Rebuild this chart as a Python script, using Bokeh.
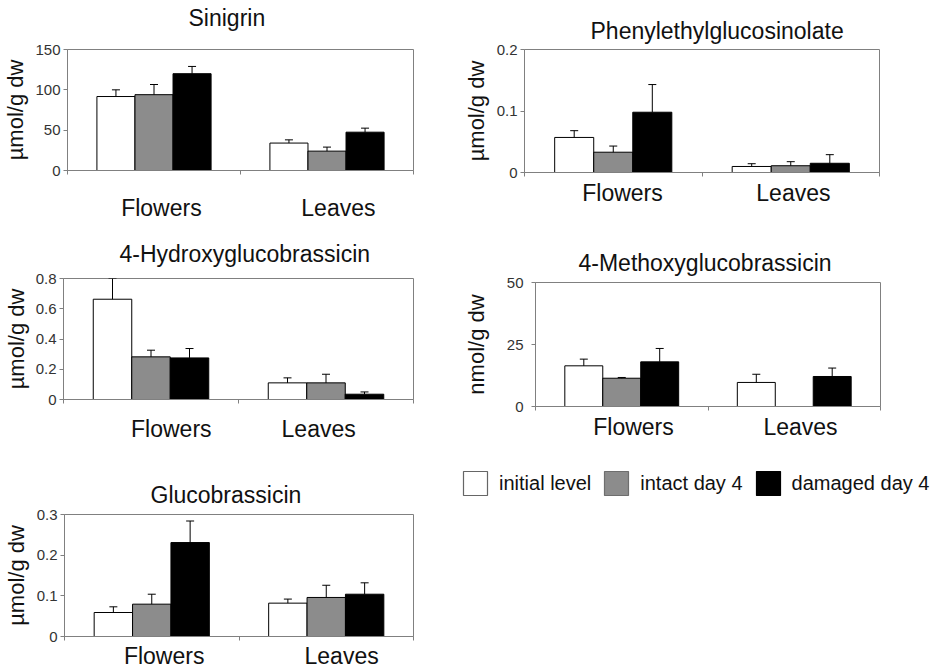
from bokeh.plotting import figure
from bokeh.models import (Range1d, FixedTicker, NumeralTickFormatter, ColumnDataSource,
                          Whisker, TeeHead, Legend, LegendItem, Title)
from bokeh.layouts import row, column
from bokeh.embed import file_html
from bokeh.resources import INLINE

FONT = "Liberation Sans"
NAN = float("nan")

# ---------------- data ----------------
categories = ["Flowers", "Leaves"]
series_names = ["initial level", "intact day 4", "damaged day 4"]
series_colors = ["#ffffff", "#8c8c8c", "#000000"]

sinigrin_initial = [91.7, 34.0]
sinigrin_intact = [94.0, 24.0]
sinigrin_damaged = [120.0, 47.5]
sinigrin_initial_err = [8.3, 4.0]
sinigrin_intact_err = [12.6, 5.0]
sinigrin_damaged_err = [9.0, 5.0]

phenyl_initial = [0.057, 0.0098]
phenyl_intact = [0.033, 0.011]
phenyl_damaged = [0.098, 0.015]
phenyl_initial_err = [0.011, 0.0045]
phenyl_intact_err = [0.010, 0.0066]
phenyl_damaged_err = [0.045, 0.014]

hydroxy_initial = [0.663, 0.110]
hydroxy_intact = [0.282, 0.110]
hydroxy_damaged = [0.275, 0.035]
hydroxy_initial_err = [0.137, 0.033]
hydroxy_intact_err = [0.044, 0.057]
hydroxy_damaged_err = [0.062, 0.015]

methoxy_initial = [16.4, 9.7]
methoxy_intact = [11.4, NAN]
methoxy_damaged = [18.0, 12.1]
methoxy_initial_err = [2.7, 3.3]
methoxy_intact_err = [0.3, NAN]
methoxy_damaged_err = [5.4, 3.4]

gluco_initial = [0.059, 0.082]
gluco_intact = [0.0795, 0.096]
gluco_damaged = [0.231, 0.104]
gluco_initial_err = [0.014, 0.010]
gluco_intact_err = [0.0245, 0.030]
gluco_damaged_err = [0.053, 0.028]

sinigrin_ticks = [0, 50, 100, 150]
phenyl_ticks = [0, 0.1, 0.2]
hydroxy_ticks = [0, 0.2, 0.4, 0.6, 0.8]
methoxy_ticks = [0, 25, 50]
gluco_ticks = [0, 0.1, 0.2, 0.3]

BAR_W = 0.22
GRAY = "#808080"


def make_panel(title, ylabel, means, errs, yticks, width, height, borders,
               title_offset, title_standoff, title_gap,
               xlab_standoff, ylab_standoff, ytick_standoff, shifts):
    left, right, top, bottom = borders
    p = figure(width=width, height=height, toolbar_location=None, output_backend="svg",
               x_range=Range1d(0, 2), y_range=Range1d(0, yticks[-1]),
               min_border_left=left, min_border_right=right,
               min_border_top=top, min_border_bottom=bottom, title=None)
    t = Title(text=title, text_font=FONT, text_font_size="23px", text_font_style="normal",
              text_color="#111111", align="left", offset=title_offset,
              standoff=title_standoff)
    if title_gap:
        # invisible spacer between frame and title
        p.add_layout(Title(text=" ", text_font_size="1px", standoff=title_gap), "above")
        p.add_layout(t, "above")
    else:
        p.title = t
    p.outline_line_color = GRAY
    p.xgrid.visible = False
    p.ygrid.visible = False
    p.background_fill_color = "white"
    p.border_fill_color = "white"

    for k in range(3):
        xs = [i + 0.5 + (k - 1) * BAR_W for i in range(len(categories))]
        tops = means[k]
        uppers = [m + e for m, e in zip(means[k], errs[k])]
        src = ColumnDataSource(dict(x=xs, top=tops, upper=uppers))
        p.vbar(x="x", top="top", bottom=0, width=BAR_W, source=src,
               fill_color=series_colors[k], line_color="black", line_width=1)
        w = Whisker(source=src, base="x", upper="upper", lower="top", dimension="height",
                    line_color="black", line_width=1, level="overlay",
                    upper_head=TeeHead(size=8, line_color="black", line_width=1),
                    lower_head=None)
        p.add_layout(w)

    # y axis
    ya = p.yaxis[0]
    ya.ticker = FixedTicker(ticks=yticks)
    ya.formatter = NumeralTickFormatter(format="0.[0]")
    ya.axis_label = ylabel
    ya.axis_label_text_font = FONT
    ya.axis_label_text_font_size = "22px"
    ya.axis_label_text_font_style = "normal"
    ya.axis_label_text_color = "#111111"
    ya.axis_label_standoff = ylab_standoff
    ya.major_label_text_font = FONT
    ya.major_label_text_font_size = "15px"
    ya.major_label_text_color = "#333333"
    ya.major_label_standoff = ytick_standoff
    ya.major_tick_out = 4
    ya.major_tick_in = 0
    ya.major_tick_line_color = GRAY
    ya.minor_tick_line_color = None
    ya.axis_line_color = GRAY

    # x axis: category labels near category centers, separator ticks at boundaries
    xa = p.xaxis[0]
    pos = [i + 0.5 + shifts[i] for i in range(len(categories))]
    xa.ticker = FixedTicker(ticks=pos, minor_ticks=list(range(len(categories) + 1)))
    xa.major_label_overrides = {pp: c for pp, c in zip(pos, categories)}
    xa.major_label_text_font = FONT
    xa.major_label_text_font_size = "23px"
    xa.major_label_text_color = "#111111"
    xa.major_label_standoff = xlab_standoff
    xa.major_tick_line_color = None
    xa.major_tick_out = 0
    xa.major_tick_in = 0
    xa.minor_tick_out = 4
    xa.minor_tick_in = 0
    xa.minor_tick_line_color = GRAY
    xa.axis_line_color = GRAY
    return p


p1 = make_panel("Sinigrin", "µmol/g dw",
                [sinigrin_initial, sinigrin_intact, sinigrin_damaged],
                [sinigrin_initial_err, sinigrin_intact_err, sinigrin_damaged_err],
                sinigrin_ticks, 420, 225, (63, 7, 49, 55), 121, 0, 16, 20, 4, 3, (0.043, 0.066))
p2 = make_panel("Phenylethylglucosinolate", "µmol/g dw",
                [phenyl_initial, phenyl_intact, phenyl_damaged],
                [phenyl_initial_err, phenyl_intact_err, phenyl_damaged_err],
                phenyl_ticks, 519, 225, (104, 60, 49, 53), 66, 11, 0, 3, 5, 3, (0.052, 0.015))
p3 = make_panel("4-Hydroxyglucobrassicin", "µmol/g dw",
                [hydroxy_initial, hydroxy_intact, hydroxy_damaged],
                [hydroxy_initial_err, hydroxy_intact_err, hydroxy_damaged_err],
                hydroxy_ticks, 420, 230, (59, 7, 53, 56), 56, 24, 0, 12, 4, 3, (0.116, -0.042))
p4 = make_panel("4-Methoxyglucobrassicin", "nmol/g dw",
                [methoxy_initial, methoxy_intact, methoxy_damaged],
                [methoxy_initial_err, methoxy_intact_err, methoxy_damaged_err],
                methoxy_ticks, 519, 230, (115, 59, 57, 49), 43, 13, 0, 3, 15, 8, (0.068, 0.036))
p5 = make_panel("Glucobrassicin", "µmol/g dw",
                [gluco_initial, gluco_intact, gluco_damaged],
                [gluco_initial_err, gluco_intact_err, gluco_damaged_err],
                gluco_ticks, 420, 216, (59, 7, 59, 33), 86, 13, 0, 2, 5, 3, (0.071, 0.088))

# legend panel
p6 = figure(width=519, height=216, toolbar_location=None, output_backend="svg",
            x_range=Range1d(0, 1), y_range=Range1d(0, 1),
            min_border_left=40, min_border_top=13, min_border_right=0, min_border_bottom=0)
p6.axis.visible = False
p6.xgrid.visible = False
p6.ygrid.visible = False
p6.outline_line_color = None
legend_lines = ["#666666", "#6e6e6e", "#000000"]
items = []
for k in range(3):
    # legend swatch renderer: holds no drawable bar (NaN), only its style
    r = p6.vbar(x=[NAN], top=[NAN], width=0.1, fill_color=series_colors[k],
                line_color=legend_lines[k], line_width=1.2)
    items.append(LegendItem(label=series_names[k], renderers=[r]))
legend = Legend(items=items, orientation="horizontal", location="top_left",
                glyph_width=30, glyph_height=30, label_standoff=9, spacing=10,
                padding=0, margin=0, border_line_alpha=0, background_fill_alpha=0,
                label_text_font=FONT, label_text_font_size="20px",
                label_text_color="#111111")
p6.add_layout(legend)

layout = column(row(column(p1), column(p2)),
                row(column(p3), column(p4)),
                row(column(p5), column(p6)))
open("out.html", "w").write(file_html(layout, INLINE))
